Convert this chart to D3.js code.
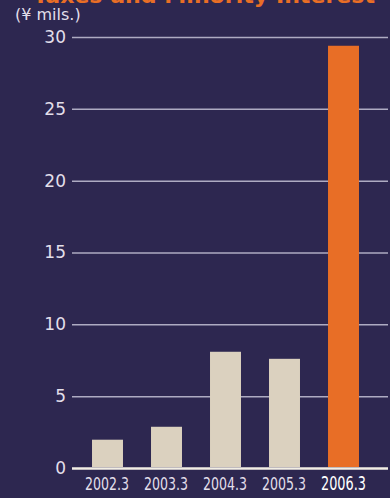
<!DOCTYPE html>
<html>
<head>
<meta charset="utf-8">
<script src="https://cdn.jsdelivr.net/npm/d3@7"></script>
<style>
    html, body { margin: 0; padding: 0; background: #2d2750; }
    #chart { width: 390px; height: 498px; }
</style>
</head>
<body>
<div id="chart"></div>
<script>
//Datos del gráfico
let periods = ['2002.3', '2003.3', '2004.3', '2005.3', '2006.3'];
let values = [1.97, 2.87, 8.09, 7.6, 29.39];
let yTicks = [0, 5, 10, 15, 20, 25, 30];
let chartTitle = 'Taxes and Minority Interest';
let unitLabel = '(¥ mils.)';

let chartBlock = d3.select('#chart'), chart, x_c, y_c;

initChart();

function initChart() {
    let width = 390, height = 498;
    let last = periods.length - 1;

    chart = chartBlock
        .append('svg')
        .attr('width', width)
        .attr('height', height);

    chart.append('rect')
        .attr('width', width)
        .attr('height', height)
        .attr('fill', '#2d2750');

    //Eje X
    x_c = d3.scaleBand()
        .domain(periods)
        .range([78, 373])
        .paddingInner(0.475)
        .paddingOuter(0.2375);

    //Eje Y
    y_c = d3.scaleLinear()
        .domain([0, 30])
        .range([468, 37]);

    //Líneas de rejilla
    let y_cAxis = function(g) {
        g.call(d3.axisLeft(y_c).tickValues(yTicks).tickSize(0).tickPadding(6));
        g.call(function(g) { g.select('.domain').remove(); });
        g.call(function(g) {
            g.selectAll('.tick line')
                .attr('x2', 388 - 72)
                .attr('stroke', function(d) { return d == 0 ? '#f2eee4' : '#aeabc2'; })
                .attr('stroke-width', function(d) { return d == 0 ? 2.5 : 1.5; });
        });
        g.call(function(g) {
            g.selectAll('.tick text')
                .attr('fill', '#e2dfea')
                .style('font-family', 'DejaVu Sans, sans-serif')
                .style('font-size', '17px');
        });
    };

    chart.append('g')
        .attr('transform', 'translate(72,0)')
        .call(y_cAxis);

    //Barras
    chart.selectAll('.bar')
        .data(values)
        .enter()
        .append('rect')
        .attr('class', 'bar')
        .attr('x', function(d, i) { return x_c(periods[i]); })
        .attr('width', x_c.bandwidth())
        .attr('y', function(d) { return y_c(d); })
        .attr('height', function(d) { return y_c(0) - y_c(d) - 1; })
        .attr('fill', function(d, i) { return i == last ? '#e86e26' : '#dbd1bf'; });

    //Etiquetas eje X (condensadas)
    chart.selectAll('.x-label')
        .data(periods)
        .enter()
        .append('text')
        .attr('class', 'x-label')
        .attr('x', function(d) { return x_c(d) + x_c.bandwidth() / 2 - (x_c.bandwidth() / 2 + 7); })
        .attr('y', 490)
        .attr('textLength', function(d, i) { return i == last ? 45 : 44; })
        .attr('lengthAdjust', 'spacingAndGlyphs')
        .attr('fill', function(d, i) { return i == last ? '#ffffff' : '#e2dfea'; })
        .style('font-family', 'DejaVu Sans, sans-serif')
        .style('font-size', function(d, i) { return i == last ? '20px' : '17px'; })
        .text(function(d) { return d; });

    //Título (cortado por arriba)
    chart.append('text')
        .attr('x', 33)
        .attr('y', 3)
        .attr('textLength', 342)
        .attr('lengthAdjust', 'spacingAndGlyphs')
        .attr('fill', '#e86e26')
        .style('font-family', 'DejaVu Sans, sans-serif')
        .style('font-weight', 'bold')
        .style('font-size', '22px')
        .text(chartTitle);

    //Unidad
    chart.append('text')
        .attr('x', 15)
        .attr('y', 20)
        .attr('fill', '#e2dfea')
        .style('font-family', 'DejaVu Sans, sans-serif')
        .style('font-size', '16px')
        .text(unitLabel);
}
</script>
</body>
</html>
